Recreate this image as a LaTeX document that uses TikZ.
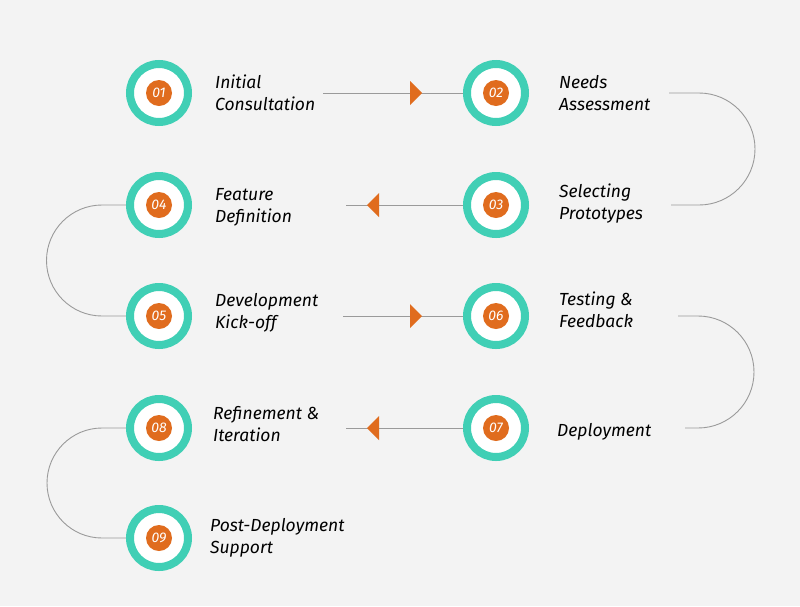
\documentclass[tikz,border=0pt]{standalone}
\usepackage{fontspec}
\setmainfont{Fira Sans}
\definecolor{bg}{HTML}{F3F3F3}
\definecolor{teal}{HTML}{40CFB5}
\definecolor{org}{HTML}{E06C1E}
\definecolor{ln}{HTML}{9A9A9A}
\begin{document}
\begin{tikzpicture}[x=1pt,y=-1pt,
  ring/.style={circle,draw=teal,line width=8pt,fill=white,minimum size=58pt,inner sep=0pt},
  num/.style={circle,fill=org,minimum size=26pt,inner sep=0pt,text=white,font=\itshape\fontsize{14}{14}\selectfont},
  lbl/.style={anchor=west,align=left,font=\itshape\fontsize{17.5}{22}\selectfont,text=black,inner sep=0pt},
  conn/.style={draw=ln,line width=0.9pt},
  tri/.style={fill=org}]
\fill[bg] (0,0) rectangle (800,606);
\useasboundingbox (0,0) rectangle (800,606);
\node[lbl] (t1) at (215,93) {Initial\\Consultation};
\node[lbl] (t2) at (559,93) {Needs\\Assessment};
\node[lbl] (t3) at (559,204) {Selecting\\Prototypes};
\node[lbl] (t4) at (215,207) {Feature\\Definition};
\node[lbl] (t5) at (215,313) {Development\\Kick-off};
\node[lbl] (t6) at (559,310) {Testing \&\\Feedback};
\node[lbl] (t7) at (557,432) {Deployment};
\node[lbl] (t8) at (213,424) {Refinement \&\\Iteration};
\node[lbl] (t9) at (210,538) {Post-Deployment\\Support};
\foreach \n/\x/\y in {01/159/93,02/496/93,03/496/205,04/159/205,05/159/316,06/496/316,07/496/428,08/159/428,09/159/538}{
  \coordinate (c\n) at (\x,\y);
}
% connectors
\coordinate (a1) at (323,93);
\draw[conn] (a1) -- (c02);
\draw[conn] (669,93) -- (699,93) arc[start angle=-90,end angle=90,radius=56] -- (671,205);
\draw[conn] (346,205) -- (c03);
\draw[conn] (c04) -- (102,205) arc[start angle=-90,end angle=-270,radius=55.5] -- (c05);
\draw[conn] (343,316) -- (c06);
\draw[conn] (678,316) -- (698,316) arc[start angle=-90,end angle=90,radius=56] -- (685,428);
\draw[conn] (346,428) -- (c07);
\draw[conn] (c08) -- (102,428) arc[start angle=-90,end angle=-270,radius=55] -- (c09);
\foreach \ci in {01,02,03,04,05,06,07,08,09}{\node[ring] at (c\ci) {};
 \node[num] at (c\ci) {\ci};}
\fill[tri] (410,81) -- (422,93) -- (410,105) -- cycle;
\fill[tri] (379,193) -- (367,205) -- (379,217) -- cycle;
\fill[tri] (410,304) -- (422,316) -- (410,328) -- cycle;
\fill[tri] (379,416) -- (367,428) -- (379,440) -- cycle;
\end{tikzpicture}
\end{document}
